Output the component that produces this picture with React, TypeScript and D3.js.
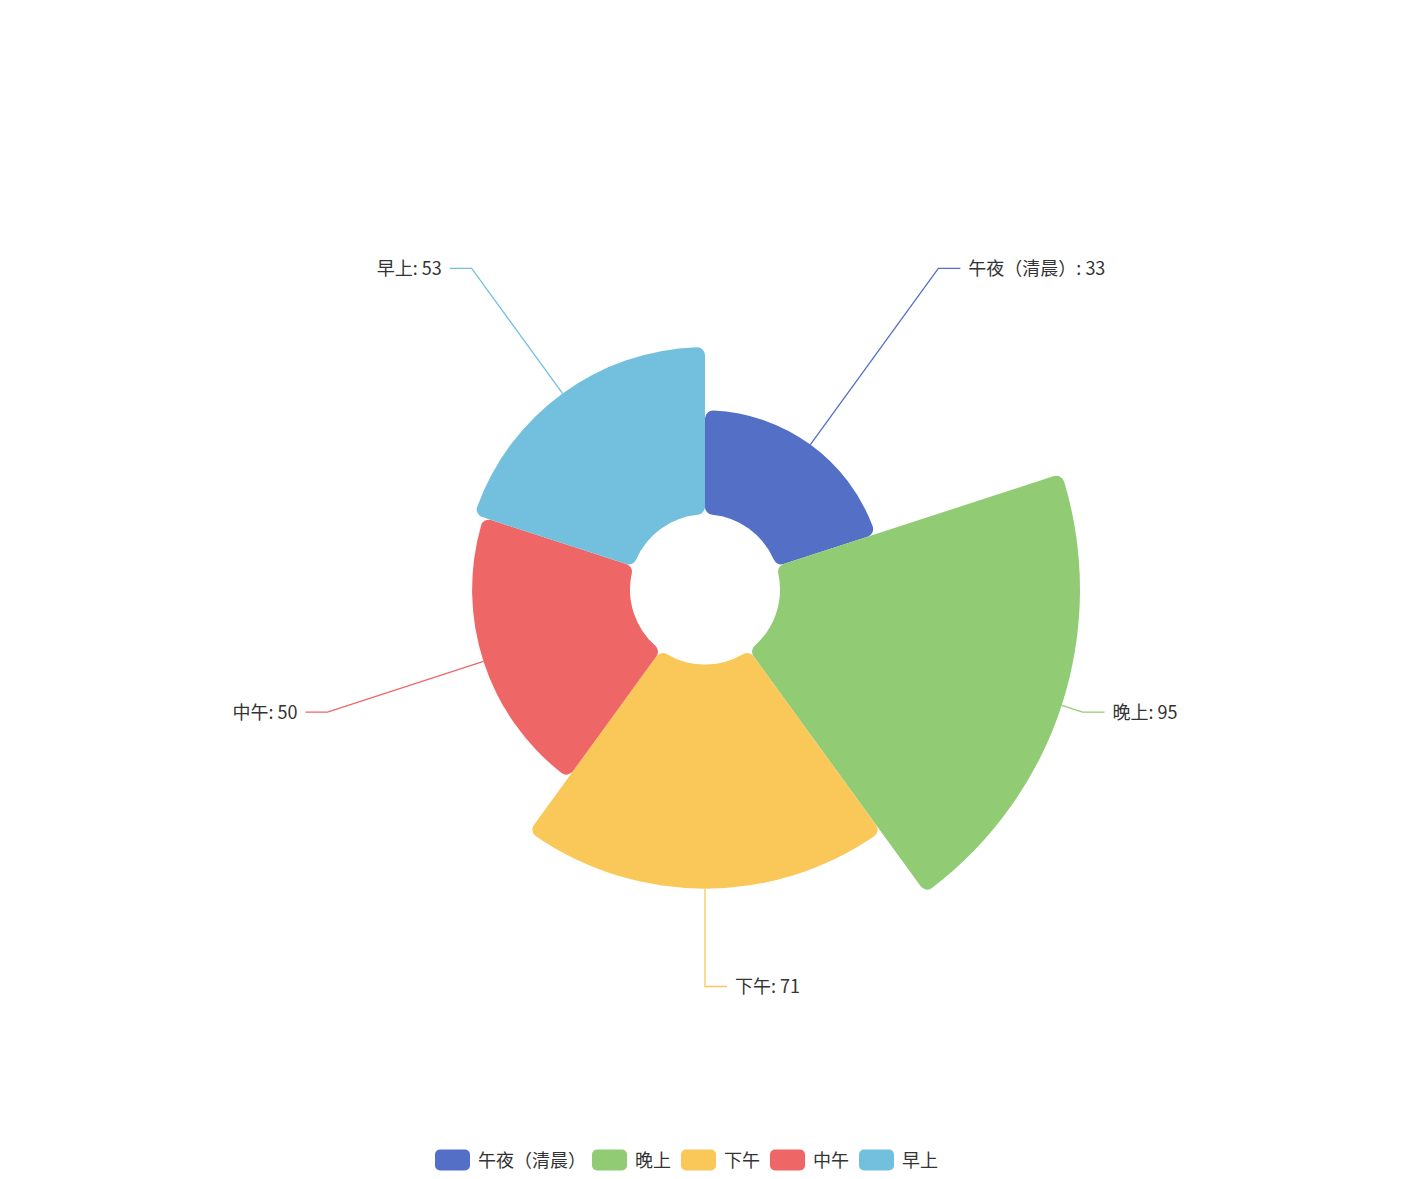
import { useEffect, useRef } from 'react';
import * as d3 from 'd3';

// 数据
const categories = ['午夜（清晨）', '晚上', '下午', '中午', '早上'];
const values = [33, 95, 71, 50, 53];
const colors = ['#5470c6', '#91cc75', '#fac858', '#ee6666', '#73c0de'];

const WIDTH = 1410;
const HEIGHT = 1179;
const FONT = '"Microsoft YaHei", "Noto Sans CJK SC", sans-serif';

export default function App() {
  const svgRef = useRef<SVGSVGElement | null>(null);

  useEffect(() => {
    document.body.style.margin = '0';
    if (!svgRef.current) return;
    const svg = d3.select(svgRef.current);
    svg.selectAll('*').remove();

    const cx = WIDTH / 2;
    const cy = HEIGHT / 2;
    const innerR = 75;
    const outerR = 375;

    // 玫瑰图：半径按数值映射，角度等分
    const rScale = d3.scaleLinear().domain([0, d3.max(values) as number]).range([innerR, outerR]);

    const data = categories.map((name, i) => ({ name, value: values[i], color: colors[i] }));
    const pie = d3.pie<any>().value(() => 1).sort(null);
    const arcs = pie(data);

    const arc = d3.arc<any>()
      .innerRadius(innerR)
      .outerRadius(d => rScale(d.data.value))
      .cornerRadius(8);

    const g = svg.append('g').attr('transform', `translate(${cx},${cy})`);

    g.selectAll('path.slice')
      .data(arcs)
      .join('path')
      .attr('class', 'slice')
      .attr('d', arc)
      .attr('fill', d => d.data.color);

    // 标签与引导线
    const elbowR = outerR + 22;
    const len2 = 22;
    arcs.forEach(d => {
      const mid = (d.startAngle + d.endAngle) / 2;
      const dx = Math.sin(mid);
      const dy = -Math.cos(mid);
      const r = rScale(d.data.value);
      const p0 = [r * dx, r * dy];
      const p1 = [elbowR * dx, elbowR * dy];
      const right = dx >= -1e-9;
      const p2 = [p1[0] + (right ? len2 : -len2), p1[1]];
      g.append('polyline')
        .attr('points', [p0, p1, p2].map(p => p.join(',')).join(' '))
        .attr('fill', 'none')
        .attr('stroke', d.data.color)
        .attr('stroke-width', 1.3);
      g.append('text')
        .attr('x', p2[0] + (right ? 8 : -8))
        .attr('y', p2[1] - 1.5)
        .attr('dominant-baseline', 'central')
        .attr('text-anchor', right ? 'start' : 'end')
        .attr('font-size', 18)
        .attr('font-family', FONT)
        .attr('fill', '#333')
        .text(`${d.data.name}: ${d.data.value}`);
    });

    // 图例
    const legend = svg.append('g').attr('transform', `translate(0,${1160})`);
    let x = 435;
    data.forEach(d => {
      const item = legend.append('g').attr('transform', `translate(${x},0)`);
      item.append('rect')
        .attr('x', 0)
        .attr('y', -10.5)
        .attr('width', 35)
        .attr('height', 21)
        .attr('rx', 5)
        .attr('fill', d.color);
      const t = item.append('text')
        .attr('x', 43)
        .attr('y', -1)
        .attr('dominant-baseline', 'central')
        .attr('font-size', 18)
        .attr('font-family', FONT)
        .attr('fill', '#333')
        .text(d.name);
      const w = (t.node() as SVGTextElement).getComputedTextLength();
      x += 43 + Math.min(w, d.name.length * 17) + 12;
    });
  }, []);

  return <svg ref={svgRef} width={WIDTH} height={HEIGHT} style={{ display: 'block', background: '#fff' }} />;
}
